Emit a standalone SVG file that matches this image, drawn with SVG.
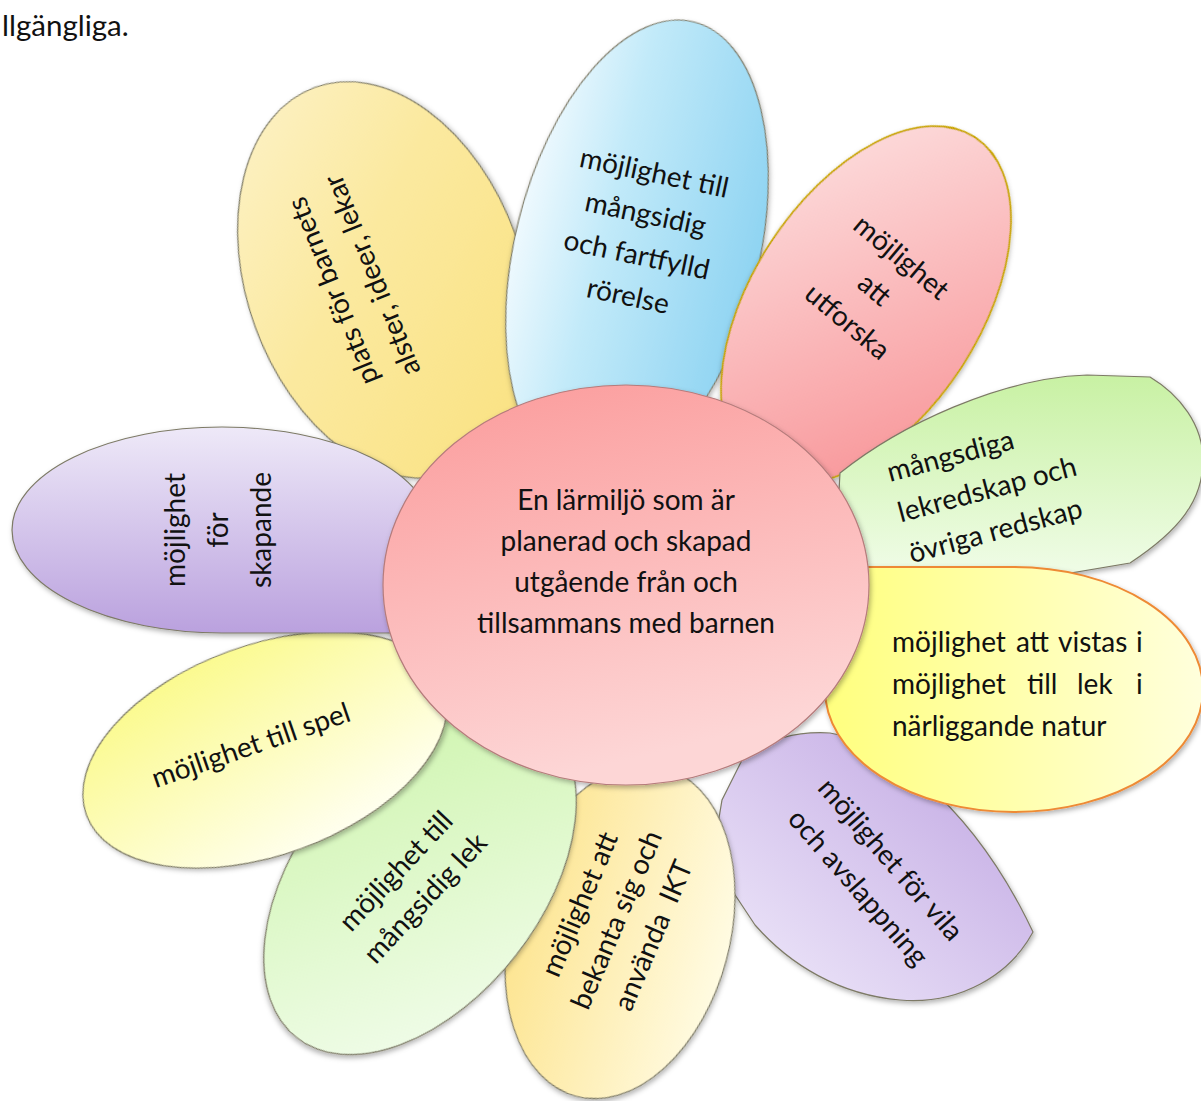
<svg xmlns="http://www.w3.org/2000/svg" width="1201" height="1101" viewBox="0 0 1201 1101">
<style>
.t{font-family:Lato,"Liberation Sans",sans-serif;font-size:28px;fill:#111}
.m{text-anchor:middle}
.p{stroke:#7d7a66;stroke-width:1.2;filter:url(#sh)}
</style>
<defs>
<filter id="sh" x="-15%" y="-15%" width="130%" height="130%"><feDropShadow dx="1.5" dy="2.5" stdDeviation="2.5" flood-color="#000" flood-opacity="0.3"/></filter>
<linearGradient id="gPlats" x1="0" y1="0" x2="0.6" y2="1"><stop offset="0" stop-color="#fdf3cc"/><stop offset="0.5" stop-color="#fbe99f"/><stop offset="1" stop-color="#fae386"/></linearGradient>
<linearGradient id="gBlue" x1="0" y1="0" x2="1" y2="0"><stop offset="0" stop-color="#eef9fe"/><stop offset="0.35" stop-color="#c2eaf9"/><stop offset="1" stop-color="#8fd4f2"/></linearGradient>
<linearGradient id="gRed" x1="0" y1="0" x2="0.8" y2="1"><stop offset="0" stop-color="#fde3e3"/><stop offset="1" stop-color="#f8979a"/></linearGradient>
<linearGradient id="gGreen" x1="0" y1="0" x2="0" y2="1"><stop offset="0" stop-color="#c8f1a3"/><stop offset="1" stop-color="#f2fdeb"/></linearGradient>
<linearGradient id="gVistas" x1="0" y1="0" x2="1" y2="0"><stop offset="0" stop-color="#ffff7e"/><stop offset="1" stop-color="#ffffdc"/></linearGradient>
<linearGradient id="gVila" x1="1" y1="0" x2="0" y2="1"><stop offset="0" stop-color="#bea3e1"/><stop offset="1" stop-color="#f1ecfb"/></linearGradient>
<linearGradient id="gIkt" x1="0" y1="0" x2="1" y2="0"><stop offset="0" stop-color="#fde48f"/><stop offset="1" stop-color="#fffbe2"/></linearGradient>
<linearGradient id="gLek" x1="0" y1="0" x2="1" y2="1"><stop offset="0" stop-color="#cbf4a8"/><stop offset="1" stop-color="#f4fdf0"/></linearGradient>
<linearGradient id="gSpel" x1="0.3" y1="0" x2="0.7" y2="1"><stop offset="0" stop-color="#fbfa8c"/><stop offset="1" stop-color="#fffff2"/></linearGradient>
<linearGradient id="gSkap" x1="0" y1="0" x2="0" y2="1"><stop offset="0" stop-color="#eee9f8"/><stop offset="1" stop-color="#baa1de"/></linearGradient>
<linearGradient id="gCenter" x1="0" y1="0" x2="0.3" y2="1"><stop offset="0" stop-color="#fb9a9a"/><stop offset="1" stop-color="#fdd6d6"/></linearGradient>
</defs>
<rect width="1201" height="1101" fill="#fff"/>
<text class="t" x="2" y="36" style="font-size:29.5px">llgängliga.</text>

<g id="connectors"/>

<g id="petal-plats">
<ellipse class="p" cx="385" cy="280" rx="138" ry="205" transform="rotate(-20 385 280)" fill="url(#gPlats)"/>
<text class="t m" transform="translate(353,283) rotate(-112)"><tspan x="0" y="-21" dy="0.32em">plats för barnets</tspan><tspan x="0" y="21" dy="0.32em">alster, ideer, lekar</tspan></text>
</g>

<g id="petal-rorelse">
<ellipse class="p" cx="637" cy="250" rx="122" ry="235" transform="rotate(14 637 250)" fill="url(#gBlue)"/>
<text class="t m" transform="translate(641,235) rotate(12)"><tspan x="0" y="-63" dy="0.32em">möjlighet till</tspan><tspan x="0" y="-21" dy="0.32em">mångsidig</tspan><tspan x="0" y="21" dy="0.32em">och fartfylld</tspan><tspan x="0" y="63" dy="0.32em">rörelse</tspan></text>
</g>

<g id="petal-utforska">
<ellipse cx="866" cy="305" rx="114" ry="200" transform="rotate(33 866 305)" fill="url(#gRed)" stroke="#c9a400" stroke-width="1.8" filter="url(#sh)"/>
<text class="t m" transform="translate(874,290) rotate(40)"><tspan x="0" y="-42" dy="0.32em">möjlighet</tspan><tspan x="0" y="0" dy="0.32em">att</tspan><tspan x="0" y="42" dy="0.32em">utforska</tspan></text>
</g>

<g id="petal-lekredskap">
<path class="p" d="M 835,560 L 840,473 C 900,425 1000,378 1087,375 L 1150,377 C 1180,395 1203,425 1203,460 C 1203,500 1180,530 1130,563 L 1000,585 L 850,585 Z" fill="url(#gGreen)"/>
<text class="t" transform="translate(890,482) rotate(-15)"><tspan x="0" y="0">mångsdiga</tspan><tspan x="0" y="42">lekredskap och</tspan><tspan x="0" y="84">övriga redskap</tspan></text>
</g>

<g id="petal-vila">
<path class="p" d="M 1033,932 C 1010,975 960,1005 900,1000 C 840,995 790,965 755,925 L 712,860 L 722,800 L 742,760 C 765,740 795,731 830,733 C 900,745 980,820 1033,932 Z" fill="url(#gVila)"/>
<text class="t m" transform="translate(874,874) rotate(49)"><tspan x="0" y="-21.5" dy="0.32em">möjlighet för vila</tspan><tspan x="0" y="21.5" dy="0.32em">och avslappning</tspan></text>
</g>

<g id="petal-vistas">
<path d="M 825,567 L 1014,567 A 189,122.5 0 0 1 1203,689.5 A 189,122.5 0 0 1 1014,812 A 189,122.5 0 0 1 825,689.5 Z" fill="url(#gVistas)" stroke="#ee8a35" stroke-width="2" filter="url(#sh)"/>
<text class="t"><tspan x="892" y="652">möjlighet</tspan><tspan x="1016" y="652">att</tspan><tspan x="1058" y="652">vistas</tspan><tspan x="1136" y="652">i</tspan><tspan x="892" y="694">möjlighet</tspan><tspan x="1027" y="694">till</tspan><tspan x="1077" y="694">lek</tspan><tspan x="1136" y="694">i</tspan><tspan x="892" y="736">närliggande natur</tspan></text>
</g>

<g id="petal-ikt">
<ellipse class="p" cx="620" cy="932" rx="110" ry="170" transform="rotate(15 620 932)" fill="url(#gIkt)"/>
<text class="t m" transform="translate(617,920) rotate(-67)"><tspan x="0" y="-40" dy="0.32em">möjlighet att</tspan><tspan x="0" y="0" dy="0.32em">bekanta sig och</tspan><tspan x="0" y="40" dy="0.32em">använda&#160; IKT</tspan></text>
</g>

<g id="petal-lek">
<ellipse class="p" cx="420" cy="880" rx="122" ry="200" transform="rotate(38 420 880)" fill="url(#gLek)"/>
<text class="t m" transform="translate(411,885) rotate(-47)"><tspan x="0" y="-20" dy="0.32em">möjlighet till</tspan><tspan x="0" y="20" dy="0.32em">mångsidig lek</tspan></text>
</g>

<g id="petal-spel">
<ellipse class="p" cx="265" cy="750" rx="190" ry="105" transform="rotate(-20 265 750)" fill="url(#gSpel)"/>
<text class="t m" transform="translate(251,746) rotate(-19)"><tspan x="0" y="0" dy="0.32em">möjlighet till spel</tspan></text>
</g>

<g id="petal-skapande">
<path class="p" d="M 12,530 A 210,103 0 0 1 222,427 A 210,103 0 0 1 432,530 L 432,633 L 222,633 A 210,103 0 0 1 12,530 Z" fill="url(#gSkap)"/>
<text class="t m" transform="translate(219,530) rotate(-90)"><tspan x="0" y="-43" dy="0.32em">möjlighet</tspan><tspan x="0" y="0" dy="0.32em">för</tspan><tspan x="0" y="43" dy="0.32em">skapande</tspan></text>
</g>

<g id="center">
<ellipse cx="626" cy="585" rx="243" ry="200" fill="url(#gCenter)" stroke="#b57c7c" stroke-width="1.2" filter="url(#sh)"/>
<text class="t m"><tspan x="626" y="510">En lärmiljö som är</tspan><tspan x="626" y="551">planerad och skapad</tspan><tspan x="626" y="592">utgående från och</tspan><tspan x="626" y="633">tillsammans med barnen</tspan></text>
</g>
</svg>
